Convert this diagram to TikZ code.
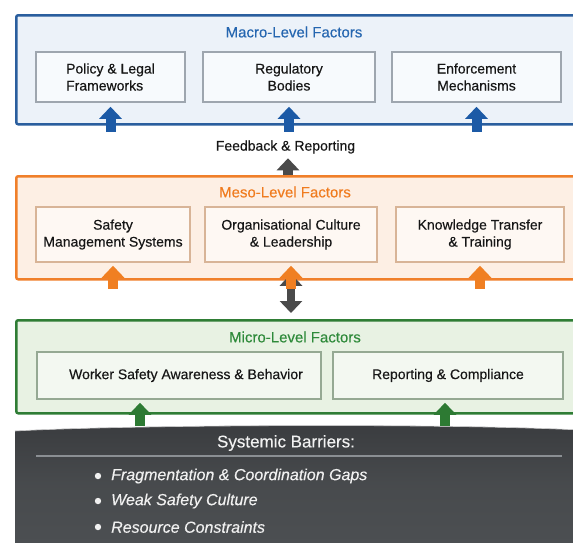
\documentclass[tikz,border=0pt]{standalone}
\usepackage{fontspec}
\setmainfont{Liberation Sans}[UprightFeatures={FakeBold=0.3}, ItalicFeatures={FakeBold=0.3}]
\usetikzlibrary{arrows.meta}

\definecolor{macroline}{HTML}{2A5E9E}
\definecolor{macrofill}{HTML}{ECF2F9}
\definecolor{macrotext}{HTML}{2566B0}
\definecolor{mesoline}{HTML}{F07F2A}
\definecolor{mesofill}{HTML}{FDEFE4}
\definecolor{mesotext}{HTML}{F07B1E}
\definecolor{microline}{HTML}{2F7D35}
\definecolor{microfill}{HTML}{E8F2E3}
\definecolor{microtext}{HTML}{2E8A3A}
\definecolor{blueinner}{HTML}{9EA6AF}
\definecolor{orangeinner}{HTML}{D8B497}
\definecolor{greeninner}{HTML}{95A993}
\definecolor{blueup}{HTML}{1C5AA6}
\definecolor{orangeup}{HTML}{F07F22}
\definecolor{greenup}{HTML}{2D7A33}
\definecolor{darkup}{HTML}{4A4A4A}
\definecolor{bartop}{HTML}{3A3C3F}
\definecolor{barbot}{HTML}{4C4F52}
\definecolor{barrule}{HTML}{8B8F93}
\definecolor{bodytext}{HTML}{161616}

\tikzset{
  level/.style={draw, line width=2.5pt, rounded corners=2pt, anchor=north west, minimum width=565pt},
  factor/.style={draw, line width=1.5pt, text=bodytext, align=center, inner sep=0pt,
    font=\fontsize{14}{17}\selectfont},
  title/.style={font=\fontsize{15}{18}\selectfont, inner sep=1pt},
  upblock/.style={line width=10pt, -{Triangle[length=12pt,width=22pt]}},
  bothblock/.style={line width=8pt, {Triangle[length=12pt,width=22pt]}-{Triangle[length=12pt,width=22pt]}},
  barrier/.style={text=white!94!black, inner sep=1pt, anchor=west,
    font=\fontsize{16}{19}\selectfont\itshape}
}

\begin{document}
\begin{tikzpicture}[x=1pt, y=-1pt]
  \useasboundingbox (0,0) rectangle (573,542);
  \clip (0,0) rectangle (573,542);
  \fill[white] (0,0) rectangle (573,542);

  % the three levels
  \node[level, draw=macroline, fill=macrofill, minimum height=109pt] (macro) at (15,14) {};
  \node[level, draw=mesoline, fill=mesofill, minimum height=103pt] (meso) at (15,175) {};
  \node[level, draw=microline, fill=microfill, minimum height=93pt] (micro) at (15,319) {};

  \node[title, text=macrotext] (macrot) at (294,32) {Macro-Level Factors};
  \node[title, text=mesotext] (mesot) at (285,192) {Meso-Level Factors};
  \node[title, text=microtext] (microt) at (295,337) {Micro-Level Factors};

  \node[factor, draw=blueinner, fill=white!60!macrofill, minimum width=149pt, minimum height=50pt, align=left] (pol) at (110.5,77) {Policy \& Legal\\Frameworks};
  \node[factor, draw=blueinner, fill=white!60!macrofill, minimum width=172pt, minimum height=50pt] (reg) at (289,77) {Regulatory\\Bodies};
  \node[factor, draw=blueinner, fill=white!60!macrofill, minimum width=169pt, minimum height=50pt] (enf) at (476.5,77) {Enforcement\\Mechanisms};

  \node[factor, draw=orangeinner, fill=white!55!mesofill, minimum width=154pt, minimum height=55pt] (sms) at (113,234.5) {Safety\\Management Systems};
  \node[factor, draw=orangeinner, fill=white!55!mesofill, minimum width=172pt, minimum height=55pt] (ocl) at (291,234.5) {Organisational Culture\\\& Leadership};
  \node[factor, draw=orangeinner, fill=white!55!mesofill, minimum width=168pt, minimum height=55pt] (ktt) at (480,234.5) {Knowledge Transfer\\\& Training};

  \node[factor, draw=greeninner, fill=white!50!microfill, minimum width=284pt, minimum height=47pt] (wsab) at (179,375.5) {\hspace*{14pt}Worker Safety Awareness \& Behavior};
  \node[factor, draw=greeninner, fill=white!50!microfill, minimum width=230pt, minimum height=47pt] (rc) at (448,375.5) {\raisebox{3pt}{Reporting \& Compliance}};

  \node[factor, draw=none, inner sep=2pt] (fb) at (285.5,147) {Feedback \& Reporting};

  % systemic barriers at the base
  \path[top color=bartop, bottom color=barbot, middle color=barbot!94!black]
    (15,545) -- (15,431) .. controls (120,425) and (440,423) .. (580,430) -- (580,545) -- cycle;
  \draw[white!60!gray, line width=0.6pt]
    (15,431) .. controls (120,425) and (440,423) .. (580,430);
  \node[text=white!95!black, font=\fontsize{17}{20}\selectfont, inner sep=1pt] (sbt) at (286,443) {Systemic Barriers:};
  \draw[barrule, line width=2pt] (36,456) -- (562,456);
  \foreach \y/\item [count=\i] in {476/Fragmentation \& Coordination Gaps, 501/Weak Safety Culture, 527/Resource Constraints} {
    \fill[white!88!gray] (98,\y) circle (3.2pt);
    \node[barrier] (bar\i) at (110,\y) {\item};
  }

  % influence arrows
  \draw[upblock, darkup, shorten >=2pt] ([xshift=2.5pt]fb.south |- meso.north) -- ([xshift=2.5pt]fb.south);
  \draw[bothblock, darkup, shorten <=11pt, shorten >=6pt] (ocl.south) -- (ocl.south |- micro.north);

  \foreach \b in {pol, reg, enf}
    \draw[upblock, blueup, shorten >=4pt] ([yshift=-29pt]\b.south) -- (\b.south);
  \foreach \b in {sms, ocl, ktt}
    \draw[upblock, orangeup, shorten >=3pt] ([yshift=-26pt]\b.south) -- (\b.south);
  \draw[upblock, greenup, shorten >=3pt] ([xshift=-39pt, yshift=-26pt]wsab.south) -- ([xshift=-39pt]wsab.south);
  \draw[upblock, greenup, shorten >=3pt] ([xshift=-3pt, yshift=-26pt]rc.south) -- ([xshift=-3pt]rc.south);
\end{tikzpicture}
\end{document}
